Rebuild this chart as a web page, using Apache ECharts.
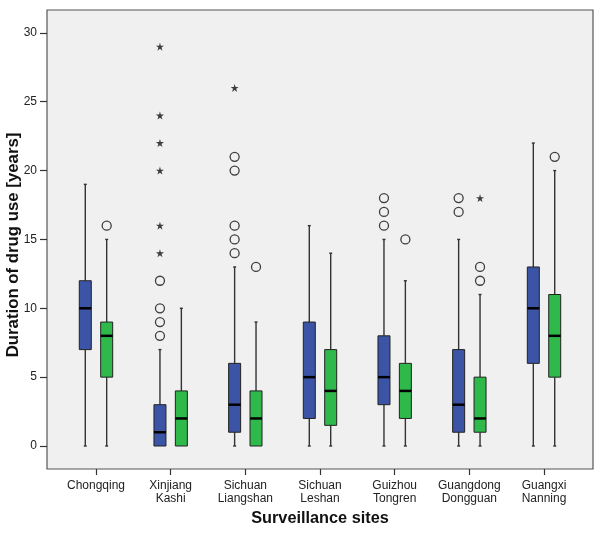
<!DOCTYPE html>
<html>
<head>
<meta charset="utf-8">
<script src="https://cdn.jsdelivr.net/npm/echarts@6/dist/echarts.min.js"></script>
<style>
html,body{margin:0;padding:0;background:#fff;}
#chart{width:600px;height:535px;}
</style>
</head>
<body>
<div id="chart"></div>
<script>
// ---- data ----
const categories = ['Chongqing', 'Xinjiang\nKashi', 'Sichuan\nLiangshan', 'Sichuan\nLeshan', 'Guizhou\nTongren', 'Guangdong\nDongguan', 'Guangxi\nNanning'];
// [min, Q1, median, Q3, max] per category
const boxesBlue = [
  [0, 7, 10, 12, 19],
  [0, 0, 1, 3, 7],
  [0, 1, 3, 6, 13],
  [0, 2, 5, 9, 16],
  [0, 3, 5, 8, 15],
  [0, 1, 3, 7, 15],
  [0, 6, 10, 13, 22]
];
const boxesGreen = [
  [0, 5, 8, 9, 15],
  [0, 0, 2, 4, 10],
  [0, 0, 2, 4, 9],
  [0, 1.5, 4, 7, 14],
  [0, 2, 4, 6, 12],
  [0, 1, 2, 5, 11],
  [0, 5, 8, 11, 20]
];
// outliers [categoryIndex, value]
const outliersBlue = [
  [1, 8], [1, 9], [1, 10], [1, 12],
  [2, 14], [2, 15], [2, 16], [2, 20], [2, 21],
  [4, 16], [4, 17], [4, 18],
  [5, 17], [5, 18]
];
const extremesBlue = [
  [1, 14], [1, 16], [1, 20], [1, 22], [1, 24], [1, 29],
  [2, 26]
];
const outliersGreen = [
  [0, 16], [2, 13], [4, 15], [5, 12], [5, 13], [6, 21]
];
const extremesGreen = [
  [5, 18]
];
const yTicks = [0, 5, 10, 15, 20, 25, 30];

// ---- style ----
const BLUE = '#3b54a6';
const GREEN = '#2fb94b';
const OFFSET = 10.7;
const BOX_W = 12;
const STAR = 'path://M50,0 L61,35 L98,35 L69,56 L80,91 L50,70 L20,91 L31,56 L2,35 L39,35 Z';

function boxSeries(boxes, dx, color) {
  return {
    type: 'custom',
    xAxisIndex: 0, yAxisIndex: 0,
    data: boxes.map((b, i) => [i].concat(b)),
    renderItem: function (params, api) {
      const i = api.value(0);
      const pMin = api.coord([i, api.value(1)]);
      const pQ1 = api.coord([i, api.value(2)]);
      const pMed = api.coord([i, api.value(3)]);
      const pQ3 = api.coord([i, api.value(4)]);
      const pMax = api.coord([i, api.value(5)]);
      const x = pMin[0] + dx;
      const half = BOX_W / 2;
      const wStyle = { stroke: '#333', lineWidth: 1.4 };
      const children = [];
      children.push({ type: 'line', shape: { x1: x, y1: pQ3[1], x2: x, y2: pMax[1] }, style: wStyle });
      children.push({ type: 'line', shape: { x1: x - 1.5, y1: pMax[1], x2: x + 1.5, y2: pMax[1] }, style: wStyle });
      if (pMin[1] - pQ1[1] > 0.5) {
        children.push({ type: 'line', shape: { x1: x, y1: pQ1[1], x2: x, y2: pMin[1] }, style: wStyle });
        children.push({ type: 'line', shape: { x1: x - 1.5, y1: pMin[1], x2: x + 1.5, y2: pMin[1] }, style: wStyle });
      }
      children.push({ type: 'rect', shape: { x: x - half, y: pQ3[1], width: BOX_W, height: pQ1[1] - pQ3[1] },
        style: { fill: color, stroke: '#222', lineWidth: 1 } });
      children.push({ type: 'line', shape: { x1: x - half, y1: pMed[1], x2: x + half, y2: pMed[1] },
        style: { stroke: '#000', lineWidth: 2.5 } });
      return { type: 'group', children: children };
    },
    z: 3
  };
}

function pointSeries(points, dx, symbol, isStar) {
  return {
    type: 'scatter',
    xAxisIndex: 0, yAxisIndex: 0,
    data: points,
    symbol: symbol,
    symbolSize: isStar ? 8 : 9,
    symbolOffset: [dx, 0],
    itemStyle: isStar ? { color: '#111' } : { color: 'rgba(0,0,0,0)', borderColor: '#111', borderWidth: 1.3 },
    z: 4,
    silent: true
  };
}

const chart = echarts.init(document.getElementById('chart'), null, { renderer: 'canvas' });
const FONT = 'Liberation Sans, Arial, sans-serif';
chart.setOption({
  animation: false,
  backgroundColor: '#fff',
  textStyle: { fontFamily: FONT },
  grid: [{
    left: 47, right: 7, top: 10, bottom: 66,
    outerBoundsMode: 'none', containLabel: false,
    show: true, backgroundColor: '#f0f0f0', borderColor: '#555', borderWidth: 1.2
  }],
  xAxis: [{
    type: 'value', gridIndex: 0,
    min: -0.656, max: 6.656,
    name: 'Surveillance sites', nameLocation: 'middle', nameGap: 42,
    nameMoveOverlap: false,
    nameTextStyle: { fontFamily: FONT, fontWeight: 'bold', fontSize: 16.3, color: '#111' },
    axisLine: { show: false, onZero: false },
    axisTick: { show: true, length: 6, lineStyle: { color: '#333', width: 1.2 }, customValues: categories.map((c, i) => i) },
    axisLabel: {
      customValues: categories.map((c, i) => i),
      formatter: function (v) { return categories[Math.round(v)]; },
      fontFamily: FONT, fontSize: 12, color: '#222', lineHeight: 13, margin: 10
    },
    splitLine: { show: false }
  }],
  yAxis: [{
    type: 'value', gridIndex: 0,
    min: -1.67, max: 31.66,
    name: 'Duration of drug use [years]', nameLocation: 'middle', nameGap: 25,
    nameMoveOverlap: false,
    nameTextStyle: { fontFamily: FONT, fontWeight: 'bold', fontSize: 16.8, color: '#111', padding: [0, 11, 0, 0] },
    axisLine: { show: false, onZero: false },
    axisTick: { show: true, length: 7, lineStyle: { color: '#333', width: 1.2 }, customValues: yTicks },
    axisLabel: { customValues: yTicks, fontFamily: FONT, fontSize: 12, color: '#222', margin: 10 },
    splitLine: { show: false }
  }],
  series: [
    boxSeries(boxesBlue, -OFFSET, BLUE),
    boxSeries(boxesGreen, OFFSET, GREEN),
    pointSeries(outliersBlue, -OFFSET, 'circle', false),
    pointSeries(extremesBlue, -OFFSET, STAR, true),
    pointSeries(outliersGreen, OFFSET, 'circle', false),
    pointSeries(extremesGreen, OFFSET, STAR, true)
  ]
});
</script>
</body>
</html>
